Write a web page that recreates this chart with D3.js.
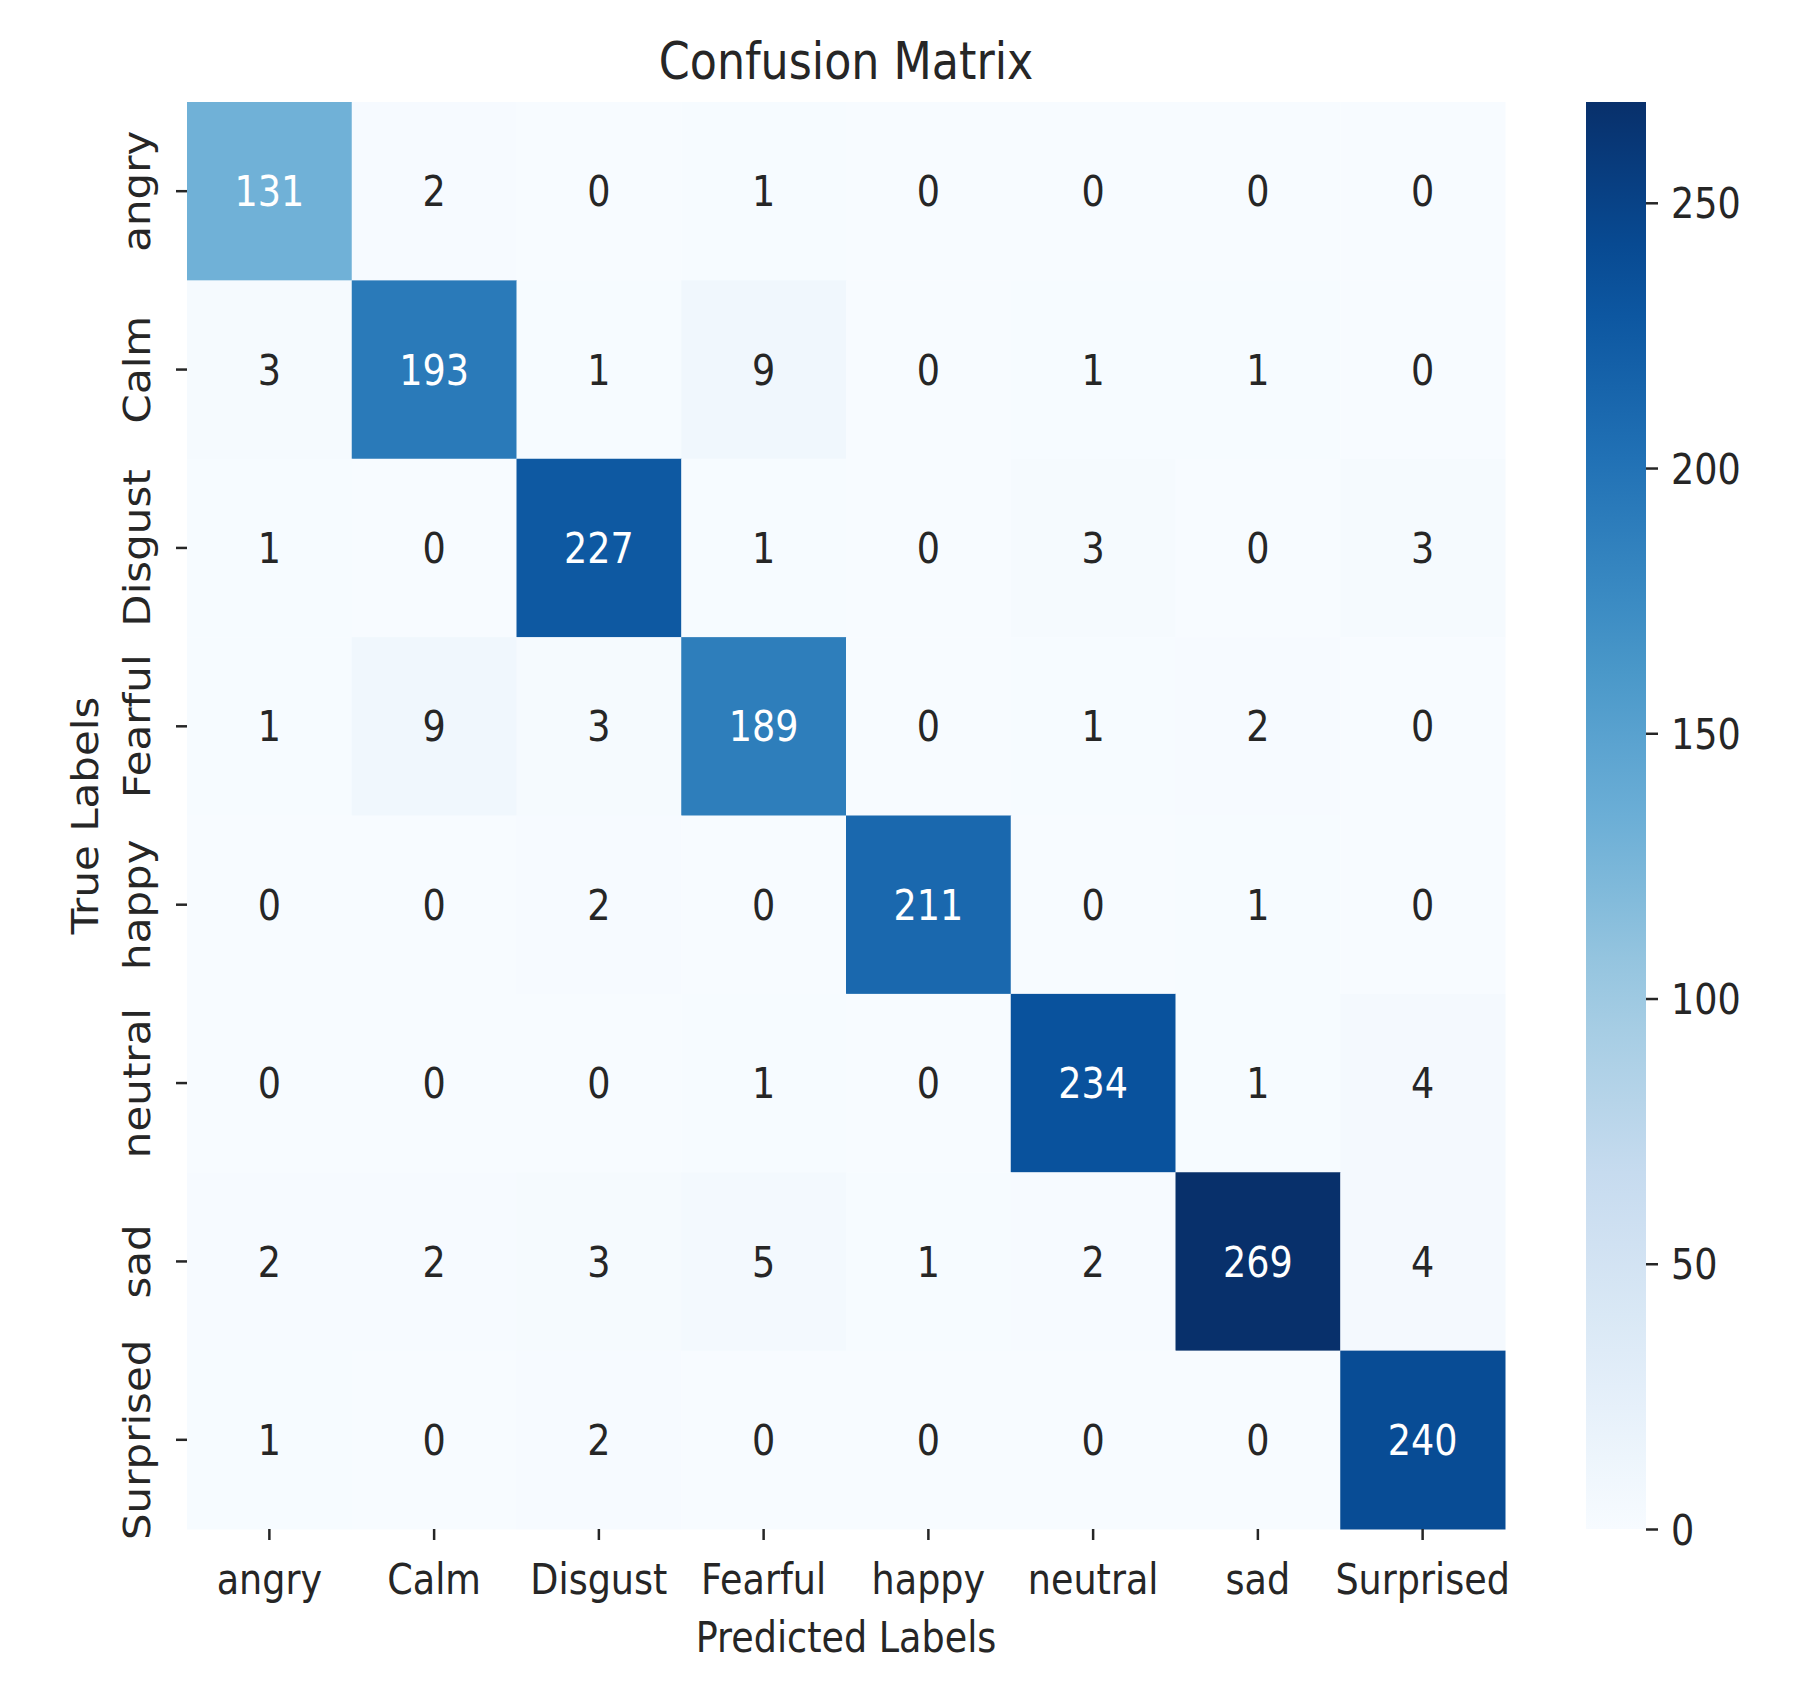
<!DOCTYPE html>
<meta charset="utf-8">
<style>
  body { margin: 0; background: #fff; }
  text { font-family: "DejaVu Sans", sans-serif; fill: #262626; }
</style>

<!-- Load d3.js -->
<script src="https://d3js.org/d3.v7.min.js"></script>

<div id="my_dataviz"></div>

<script>

// class names, same order on both axes
var labels = ["angry", "Calm", "Disgust", "Fearful", "happy", "neutral", "sad", "Surprised"];

// one row per true label, columns are the predicted labels
var row_angry     = [131,   2,   0,   1,   0,   0,   0,   0];
var row_calm      = [  3, 193,   1,   9,   0,   1,   1,   0];
var row_disgust   = [  1,   0, 227,   1,   0,   3,   0,   3];
var row_fearful   = [  1,   9,   3, 189,   0,   1,   2,   0];
var row_happy     = [  0,   0,   2,   0, 211,   0,   1,   0];
var row_neutral   = [  0,   0,   0,   1,   0, 234,   1,   4];
var row_sad       = [  2,   2,   3,   5,   1,   2, 269,   4];
var row_surprised = [  1,   0,   2,   0,   0,   0,   0, 240];

var rows = [row_angry, row_calm, row_disgust, row_fearful,
            row_happy, row_neutral, row_sad, row_surprised];

// colorbar ticks
var cbar_ticks = [0, 50, 100, 150, 200, 250];

// the picture is a bit squeezed sideways, so the text is too
var squeeze = "scale(0.87,1)";
var fs = "42px";

// dimensions of the page and the plot area
// (no global called "top": that one belongs to window)
var W = 1806, H = 1701;
var plot = {left: 187, right: 1505, top: 102, bottom: 1529};
var cbar = {x: 1586, w: 60};

var svg = d3.select("#my_dataviz")
  .append("svg")
    .attr("width", W)
    .attr("height", H);

// flatten to cells
var cells = [];
rows.forEach(function(r, i) {
  r.forEach(function(v, j) {
    cells.push({t: labels[i], p: labels[j], v: v});
  });
});
var vmax = d3.max(cells, function(d) { return d.v; });

// scales
var x = d3.scaleBand().domain(labels).range([plot.left, plot.right]);
var y = d3.scaleBand().domain(labels).range([plot.top, plot.bottom]);

// matplotlib "Blues" stops
var blues = ["#f7fbff", "#deebf7", "#c6dbef", "#9ecae1", "#6baed6",
             "#4292c6", "#2171b5", "#08519c", "#08306b"];
var color = d3.scaleLinear()
  .domain(blues.map(function(c, i) { return i / (blues.length - 1) * vmax; }))
  .range(blues)
  .interpolate(d3.interpolateRgb);

// cells
svg.selectAll(".cell")
  .data(cells)
  .enter()
  .append("rect")
    .attr("class", "cell")
    .attr("x", function(d) { return x(d.p); })
    .attr("y", function(d) { return y(d.t); })
    .attr("width", x.bandwidth() + 0.5)
    .attr("height", y.bandwidth() + 0.5)
    .attr("fill", function(d) { return color(d.v); });

// annotations, white on dark cells like seaborn does
function isDark(c) {
  var rgb = d3.rgb(c);
  var lum = [rgb.r, rgb.g, rgb.b].map(function(u) {
    u = u / 255;
    return u <= 0.03928 ? u / 12.92 : Math.pow((u + 0.055) / 1.055, 2.4);
  });
  return 0.2126 * lum[0] + 0.7152 * lum[1] + 0.0722 * lum[2] < 0.408;
}
svg.selectAll(".annot")
  .data(cells)
  .enter()
  .append("text")
    .attr("class", "annot")
    .attr("transform", function(d) {
      return "translate(" + (x(d.p) + x.bandwidth() / 2) + "," + (y(d.t) + y.bandwidth() / 2) + ") " + squeeze;
    })
    .attr("dy", "0.36em")
    .attr("font-size", fs)
    .style("text-anchor", "middle")
    .style("fill", function(d) { return isDark(color(d.v)) ? "#ffffff" : "#262626"; })
    .text(function(d) { return d.v; });

// X axis
var xAxis = svg.append("g")
  .attr("transform", "translate(0," + plot.bottom + ")")
  .call(d3.axisBottom(x).tickSize(11).tickSizeOuter(0));
xAxis.select(".domain").remove();
xAxis.selectAll("line").attr("stroke", "#262626").attr("stroke-width", 2.5);
xAxis.selectAll("text")
  .attr("y", 65)
  .attr("dy", null)
  .attr("transform", squeeze)
  .attr("font-size", fs)
  .attr("font-family", null)
  .attr("fill", null);

// Y axis
var yAxis = svg.append("g")
  .attr("transform", "translate(" + plot.left + ",0)")
  .call(d3.axisLeft(y).tickSize(11).tickSizeOuter(0));
yAxis.select(".domain").remove();
yAxis.selectAll("line").attr("stroke", "#262626").attr("stroke-width", 2.5);
yAxis.selectAll("text")
  .attr("x", null)
  .attr("dy", null)
  .attr("transform", "translate(-37,0) " + squeeze + " rotate(-90)")
  .style("text-anchor", "middle")
  .attr("font-size", fs)
  .attr("font-family", null)
  .attr("fill", null);

// title and axis labels
var midX = (plot.left + plot.right) / 2,
    midY = (plot.top + plot.bottom) / 2;

svg.append("text")
  .attr("transform", "translate(" + midX + ",79) " + squeeze)
  .attr("font-size", "51px")
  .style("text-anchor", "middle")
  .text("Confusion Matrix");

svg.append("text")
  .attr("transform", "translate(" + midX + ",1652) " + squeeze)
  .attr("font-size", fs)
  .style("text-anchor", "middle")
  .text("Predicted Labels");

svg.append("text")
  .attr("transform", "translate(98," + midY + ") " + squeeze + " rotate(-90)")
  .attr("font-size", fs)
  .style("text-anchor", "middle")
  .text("True Labels");

// colorbar
var cy = d3.scaleLinear().domain([0, vmax]).range([plot.bottom, plot.top]);

var grad = svg.append("defs")
  .append("linearGradient")
    .attr("id", "cbar")
    .attr("x1", 0).attr("y1", 1)
    .attr("x2", 0).attr("y2", 0);
grad.selectAll("stop")
  .data(d3.range(0, 1.0001, 0.05))
  .enter()
  .append("stop")
    .attr("offset", function(d) { return d; })
    .attr("stop-color", function(d) { return color(d * vmax); });

svg.append("rect")
  .attr("x", cbar.x)
  .attr("y", plot.top)
  .attr("width", cbar.w)
  .attr("height", plot.bottom - plot.top)
  .attr("fill", "url(#cbar)");

var cAxis = svg.append("g")
  .attr("transform", "translate(" + (cbar.x + cbar.w) + ",0)")
  .call(d3.axisRight(cy).tickValues(cbar_ticks).tickSize(12));
cAxis.select(".domain").remove();
cAxis.selectAll("line").attr("stroke", "#262626").attr("stroke-width", 2.5);
cAxis.selectAll("text")
  .attr("x", null)
  .attr("dy", "0.36em")
  .attr("transform", "translate(25,0) " + squeeze)
  .attr("font-size", fs)
  .attr("font-family", null)
  .attr("fill", null);

</script>
